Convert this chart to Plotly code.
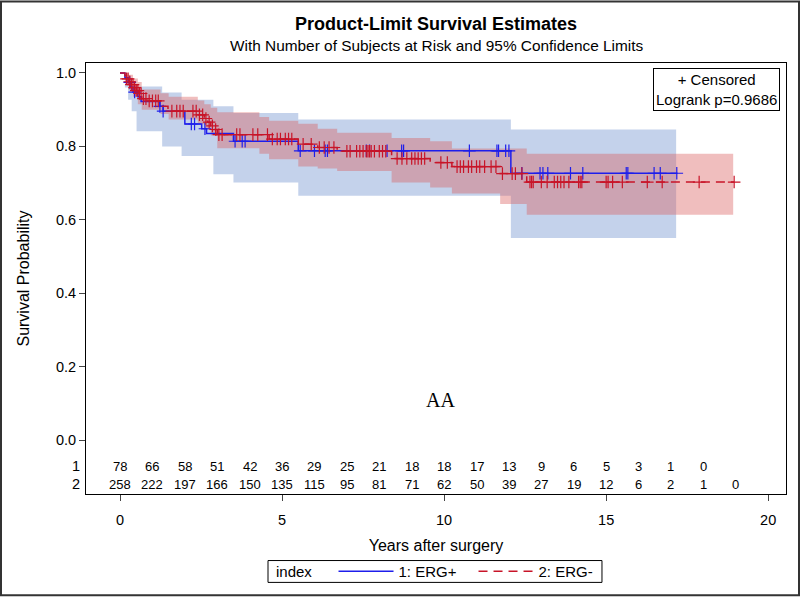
import numpy as np
import plotly.graph_objects as go

# group 1: ERG+  (Kaplan-Meier steps)
t1 = [0, 0.15, 0.25, 0.31, 0.4, 0.55, 0.65, 1.23, 1.33, 2.0, 2.52, 2.67, 3.5, 5.5, 12.06, 17.2]
s1 = [1.0, 0.987, 0.974, 0.962, 0.948, 0.935, 0.922, 0.909, 0.896, 0.861, 0.848, 0.835, 0.814, 0.788, 0.727, 0.727]
# 95% confidence limits, group 1
tb1 = [0, 0.15, 0.25, 0.36, 0.51, 1.3, 1.9, 2.88, 3.5, 5.5, 12.06, 17.16]
lo1 = [1.0, 0.96, 0.927, 0.896, 0.841, 0.80, 0.774, 0.724, 0.702, 0.666, 0.551, 0.551]
hi1 = [1.0, 0.995, 0.963, 0.963, 0.963, 0.947, 0.927, 0.909, 0.891, 0.873, 0.846, 0.846]
# censored times, group 1
c1 = [0.3, 0.45, 1.23, 1.33, 2.2, 2.3, 2.62, 3.55, 3.77, 3.86, 5.56, 6.0, 6.33, 6.4, 7.6, 7.7,
      8.24, 8.69, 8.75, 10.78, 11.63, 11.68, 11.9, 12.0, 12.4, 12.96, 13.05, 13.2, 13.9, 14.28,
      15.62, 15.67, 16.48, 16.67, 17.18]

# group 2: ERG-
t2 = [0, 0.15, 0.2, 0.28, 0.35, 0.42, 0.5, 0.58, 0.67, 0.9, 1.23, 1.48, 2.4, 2.6, 2.7, 2.8, 2.9,
      3.0, 4.6, 5.5, 6.1, 6.7, 8.38, 9.57, 10.24, 11.73, 12.55, 18.95]
s2 = [1.0, 0.992, 0.984, 0.976, 0.968, 0.96, 0.952, 0.944, 0.93, 0.924, 0.909, 0.896, 0.886,
      0.876, 0.866, 0.856, 0.846, 0.832, 0.82, 0.806, 0.797, 0.787, 0.767, 0.756, 0.745, 0.726,
      0.703, 0.703]
tb2 = [0, 0.15, 0.25, 0.4, 0.55, 0.67, 1.25, 1.5, 2.4, 2.6, 2.8, 3.0, 4.3, 4.6, 5.5, 6.1, 6.7,
       8.38, 9.57, 10.24, 11.73, 12.55, 18.92]
lo2 = [1.0, 0.975, 0.955, 0.935, 0.915, 0.9, 0.888, 0.873, 0.86, 0.845, 0.83, 0.795, 0.78, 0.765,
       0.745, 0.74, 0.733, 0.702, 0.688, 0.672, 0.643, 0.614, 0.614]
hi2 = [1.0, 1.0, 0.995, 0.985, 0.975, 0.955, 0.945, 0.935, 0.925, 0.915, 0.905, 0.893, 0.88,
       0.87, 0.862, 0.848, 0.837, 0.823, 0.814, 0.794, 0.794, 0.78, 0.78]
c2 = [0.2, 0.25, 0.3, 0.35, 0.4, 0.45, 0.5, 0.55, 0.6, 0.65, 0.72, 0.8, 0.9, 1.0, 1.1, 1.18,
      1.6, 1.75, 1.85, 1.95, 2.25, 2.35, 2.45, 2.55, 2.65, 2.75, 2.85, 2.95, 3.05, 3.15, 3.6, 3.7,
      4.1, 4.25, 4.55, 4.7, 4.85, 4.95, 5.1, 5.2, 5.3, 5.65, 5.9, 6.15, 6.3, 6.45, 6.6, 7.0, 7.1,
      7.3, 7.4, 7.5, 7.6, 7.65, 7.7, 7.75, 7.85, 8.0, 8.1, 8.2, 8.55, 8.7, 8.85, 9.0, 9.1, 9.2,
      9.3, 9.4, 9.9, 10.1, 10.4, 10.5, 10.6, 10.75, 10.85, 11.0, 11.1, 11.25, 11.45, 11.6, 11.8,
      12.1, 12.2, 12.4, 12.65, 12.7, 12.75, 13.0, 13.18, 13.4, 13.5, 13.6, 13.7, 13.85, 14.15,
      14.2, 14.25, 15.0, 15.06, 15.2, 15.5, 16.27, 16.73, 17.87, 18.95]

# number at risk
risk_t1 = list(range(19))
risk1 = [78, 66, 58, 51, 42, 36, 29, 25, 21, 18, 18, 17, 13, 9, 6, 5, 3, 1, 0]
risk_t2 = list(range(20))
risk2 = [258, 222, 197, 166, 150, 135, 115, 95, 81, 71, 62, 50, 39, 27, 19, 12, 6, 2, 1, 0]

BLUE = "rgb(30,30,235)"
RED = "rgb(200,20,40)"
FONT = "Arial, Liberation Sans, sans-serif"


def step_at(t, s, c):
    idx = np.searchsorted(np.array(t), np.array(c), side="right") - 1
    return np.array(s)[idx]


fig = go.Figure()


def band(t, lo, hi, color):
    fig.add_trace(go.Scatter(x=t, y=lo, mode="lines", line=dict(width=0, shape="hv"),
                             showlegend=False, hoverinfo="skip"))
    fig.add_trace(go.Scatter(x=t, y=hi, mode="lines", line=dict(width=0, shape="hv"),
                             fill="tonexty", fillcolor=color, showlegend=False, hoverinfo="skip"))


band(tb1, lo1, hi1, "rgba(108,143,205,0.4)")
band(tb2, lo2, hi2, "rgba(218,93,93,0.4)")

fig.add_trace(go.Scatter(x=t1, y=s1, mode="lines", name="1: ERG+",
                         line=dict(color=BLUE, width=1.5, shape="hv")))
fig.add_trace(go.Scatter(x=c1, y=step_at(t1, s1, c1), mode="markers", showlegend=False,
                         marker=dict(symbol="cross-thin-open", size=9, color=BLUE,
                                     line=dict(color=BLUE, width=1.2))))
fig.add_trace(go.Scatter(x=t2, y=s2, mode="lines", name="2: ERG-",
                         line=dict(color=RED, width=1.5, shape="hv", dash="9px,6px")))
fig.add_trace(go.Scatter(x=c2, y=step_at(t2, s2, c2), mode="markers", showlegend=False,
                         marker=dict(symbol="cross-thin-open", size=9, color=RED,
                                     line=dict(color=RED, width=1.2))))

ann = []
for x, n in zip(risk_t1, risk1):
    ann.append(dict(x=x, y=-0.070, text=str(n), showarrow=False, font=dict(size=13)))
for x, n in zip(risk_t2, risk2):
    ann.append(dict(x=x, y=-0.120, text=str(n), showarrow=False, font=dict(size=13)))
ann.append(dict(xref="paper", x=-0.006, xanchor="right", y=-0.070, text="1", showarrow=False,
                font=dict(size=14.5)))
ann.append(dict(xref="paper", x=-0.006, xanchor="right", y=-0.120, text="2", showarrow=False,
                font=dict(size=14.5)))
ann.append(dict(x=9.88, y=0.111, text="AA", showarrow=False,
                font=dict(family="Liberation Serif, DejaVu Serif, serif", size=20)))
ann.append(dict(xref="paper", yref="paper", x=0.9914, y=0.9885, xanchor="right", yanchor="top",
                text="+ Censored<br>Logrank p=0.9686", showarrow=False, align="center",
                bordercolor="black", borderwidth=1, borderpad=2, bgcolor="white",
                font=dict(size=15)))
ann.append(dict(xref="paper", yref="paper", x=0.5, y=1.0899, yanchor="middle",
                text="<b>Product-Limit Survival Estimates</b>", showarrow=False,
                font=dict(size=18)))
ann.append(dict(xref="paper", yref="paper", x=0.5, y=1.0403, yanchor="middle",
                text="With Number of Subjects at Risk and 95% Confidence Limits",
                showarrow=False, font=dict(size=15.4)))
# legend title, drawn next to the legend entries
ann.append(dict(xref="paper", yref="paper", x=0.2686, y=-0.1797, xanchor="left",
                yanchor="middle", text="index", showarrow=False, font=dict(size=15)))

fig.update_layout(
    width=800, height=600,
    margin=dict(l=86, r=14, t=63, b=103),
    paper_bgcolor="white", plot_bgcolor="white",
    font=dict(family=FONT, color="black", size=15),
    annotations=ann,
    showlegend=True,
    legend=dict(orientation="h", x=0.3536, xanchor="left", y=-0.1797, yanchor="middle",
                traceorder="normal", itemwidth=55, entrywidth=70, entrywidthmode="pixels",
                bgcolor="rgba(0,0,0,0)", borderwidth=0, font=dict(size=15)),
    shapes=[dict(type="rect", xref="paper", yref="paper",
                 x0=-85 / 700, x1=713 / 700, y0=-102 / 434, y1=496 / 434,
                 line=dict(color="#333", width=2)),
            dict(type="rect", xref="paper", yref="paper",
                 x0=0.26, x1=0.7371, y0=-0.2051, y1=-0.1544,
                 line=dict(color="black", width=1))],
)
fig.update_xaxes(range=[-1.05, 20.55], tickvals=[0, 5, 10, 15, 20], ticks="outside", ticklen=6,
                 ticklabelstandoff=7,
                 showline=True, mirror=True, linecolor="black", linewidth=1, showgrid=False,
                 zeroline=False, tickfont=dict(size=14.5),
                 title=dict(text="Years after surgery", font=dict(size=16), standoff=12))
fig.update_yaxes(range=[-0.146, 1.027], tickvals=[0, 0.2, 0.4, 0.6, 0.8, 1.0],
                 ticktext=["0.0", "0.2", "0.4", "0.6", "0.8", "1.0"], ticks="outside", ticklen=6,
                 showline=True, mirror=True, linecolor="black", linewidth=1, showgrid=False,
                 zeroline=False, tickfont=dict(size=14.5),
                 title=dict(text="Survival Probability", font=dict(size=16), standoff=22))

fig.write_html("out.html", config={"displayModeBar": False},
               post_script="document.body.style.margin='0';")
